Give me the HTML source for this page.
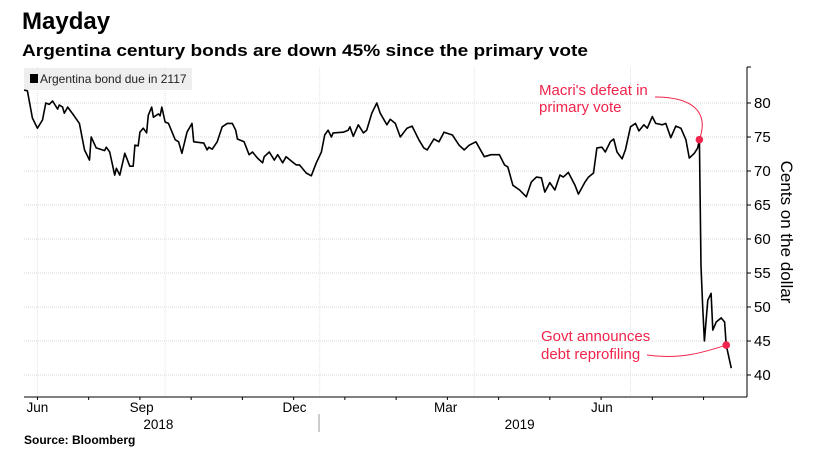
<!DOCTYPE html>
<html><head><meta charset="utf-8"><style>
body{margin:0;background:#fff;font-family:"Liberation Sans",sans-serif;}
svg text{font-family:"Liberation Sans",sans-serif;}
</style></head><body>
<svg id="chart" width="817" height="470" viewBox="0 0 817 470" xmlns="http://www.w3.org/2000/svg">
<text x="22" y="29" font-size="24" font-weight="bold" fill="#000">Mayday</text>
<text x="22" y="56" font-size="17" font-weight="bold" fill="#000" textLength="566" lengthAdjust="spacingAndGlyphs">Argentina century bonds are down 45% since the primary vote</text>
<g id="grid"></g>
<rect x="24" y="68" width="168" height="22" fill="#eeeeee"/>
<rect x="30" y="74" width="8" height="9" fill="#000"/>
<text x="40" y="83" font-size="12" fill="#222">Argentina bond due in 2117</text>
<g id="series"></g>
<g id="axes"></g>
<text transform="translate(781,232) rotate(90)" text-anchor="middle" font-size="17" fill="#000">Cents on the dollar</text>
<text font-size="15" fill="#f0244c"><tspan x="539" y="95">Macri's defeat in</tspan><tspan x="539" y="112">primary vote</tspan></text>
<text font-size="15" fill="#f0244c"><tspan x="541" y="341">Govt announces</tspan><tspan x="541" y="359">debt reprofiling</tspan></text>
<text x="24" y="444" font-size="12" font-weight="bold" fill="#000">Source: Bloomberg</text>
</svg>
<script>
const days=[0,2,5,8,11,13,15,17,20,21,23,24,26,29,33,36,39,40,43,48,49,51,54,55,57,60,63,65,66,68,69,71,73,74,76,77,80,81,82,84,86,90,92,94,97,100,101,107,109,110,112,115,118,121,124,126,127,131,134,136,139,142,143,146,149,151,154,156,160,162,164,168,171,174,177,179,181,183,184,190,193,194,196,199,202,204,207,210,212,216,218,221,224,228,231,235,238,240,244,247,250,255,259,262,265,269,274,278,283,286,288,291,295,299,302,305,308,310,313,316,319,321,324,328,330,334,336,339,341,344,346,349,351,353,356,358,361,364,366,369,371,374,376,380,382,385,388,391,394,396,399,401,402,403,404,405,407,409,410,412,415,417,418,421];
const prices=[81.9,81.8,77.8,76.3,77.5,80,79.8,80.3,79.1,79.7,79.4,78.5,79.4,78.4,77,73.1,71.6,75,73.4,73,73.5,72.8,69.4,70.4,69.4,72.6,70.7,70.7,73.8,73.7,75.7,76.3,75.6,78.2,79.4,77.9,78.4,78.1,79.4,77.2,77,74.6,74.3,72.6,75.7,77,74.3,74.1,73.1,73.5,73.2,74.3,76.5,77,77,76,74.7,74.3,72.4,72.8,71.9,71.2,72.1,72.8,71.6,72.4,71.2,72.1,71.3,70.9,70.9,69.7,69.3,71.2,72.8,75.3,76,75,75.6,75.7,76,76.5,75.1,76.8,75.6,76,78.5,80,78.5,76.8,77.6,77,75,76.3,76.6,74.6,73.4,73.1,74.7,74.3,75.7,75.3,73.8,73.1,73.8,74.3,72.1,72.4,72.4,70.9,70.6,67.9,67.2,66.2,68.4,69.1,69,66.9,68.3,67.2,69.4,69.1,69.8,67.9,66.6,68.4,69.1,69.7,73.4,73.5,72.8,74.3,74.7,72.8,71.8,73.1,76.5,77,75.9,76.8,76.3,78,77,76.8,77,74.9,76.6,76.3,74.6,71.9,72.6,73.4,74.6,56,50,45,51,52,46.6,47.8,48.4,47.8,44.4,41];
const yTicks=[40,45,50,55,60,65,70,75,80];
const monthLabels=["Jun","Sep","Dec","Mar","Jun"];
const monthDays=[8,70,161,251,344];
const gridDays=[8,84,176,268,361];
const yearLabels=["2018","2019"];
const yearDays=[80,295];
const events=[402,418];
const eventValues=[74.6,44.4];
const NS="http://www.w3.org/2000/svg";
const X0=24,X1=747,Y0=67,Y1=397;
const xs=d=>24+d*1.68;
const ys=v=>375-(v-40)*6.8;
function mk(tag,attrs,parent){const e=document.createElementNS(NS,tag);for(const k in attrs)e.setAttribute(k,attrs[k]);parent.appendChild(e);return e;}
const grid=document.getElementById('grid'),axes=document.getElementById('axes'),series=document.getElementById('series');
yTicks.forEach(v=>{const l=mk('line',{x1:X0,x2:X1,y1:ys(v),y2:ys(v),stroke:'#d8d8d8','stroke-dasharray':'1,1'},grid);


const t=mk('line',{x1:X1,x2:X1+4,y1:ys(v),y2:ys(v),stroke:'#000'},axes);


const tx=mk('text',{x:X1+7,y:ys(v)+5,'font-size':15,fill:'#000'},axes);tx.textContent=v;

});
gridDays.forEach(d=>{const l=mk('line',{x1:xs(d),x2:xs(d),y1:Y0,y2:Y1,stroke:'#e2e2e2','stroke-dasharray':'1,1'},grid);

});
mk('line',{x1:X1,x2:X1,y1:Y0,y2:Y1,stroke:'#000'},axes);
mk('line',{x1:X1,x2:X1+4,y1:Y0,y2:Y0,stroke:'#000'},axes);
mk('line',{x1:X0,x2:X1,y1:Y1,y2:Y1,stroke:'#000'},axes);
for(let d=8;d<=425;d+=30.5){const t=mk('line',{x1:xs(d),x2:xs(d),y1:Y1,y2:Y1+3,stroke:'#000'},axes);

}
monthLabels.forEach((m,i)=>{const t=mk('text',{x:xs(monthDays[i]),y:412,'font-size':13.5,'text-anchor':'middle',fill:'#000'},axes);t.textContent=m;

});
yearLabels.forEach((y,i)=>{const t=mk('text',{x:xs(yearDays[i]),y:429,'font-size':13.5,'text-anchor':'middle',fill:'#000'},axes);t.textContent=y;

});
mk('line',{x1:319,x2:319,y1:414,y2:432,stroke:'#999'},axes);
const p=mk('path',{d:days.map((d,i)=>(i?'L':'M')+xs(d).toFixed(1)+','+ys(prices[i]).toFixed(1)).join(''),fill:'none',stroke:'#000','stroke-width':1.6,'stroke-linejoin':'round'},series);


const ex=xs(events[0]),ey=ys(eventValues[0]),fx=xs(events[1]),fy=ys(eventValues[1]);
const c1=mk('path',{d:`M655,97 C690,97 710,110 ${ex},${ey}`,fill:'none',stroke:'#f0244c','stroke-width':1},series);


const c2=mk('path',{d:`M647,355 C680,360 705,352 ${fx},${fy}`,fill:'none',stroke:'#f0244c','stroke-width':1},series);


events.forEach((d,i)=>{const c=mk('circle',{cx:xs(d),cy:ys(eventValues[i]),r:3.8,fill:'#f0244c'},series);

});
</script>
</body></html>
